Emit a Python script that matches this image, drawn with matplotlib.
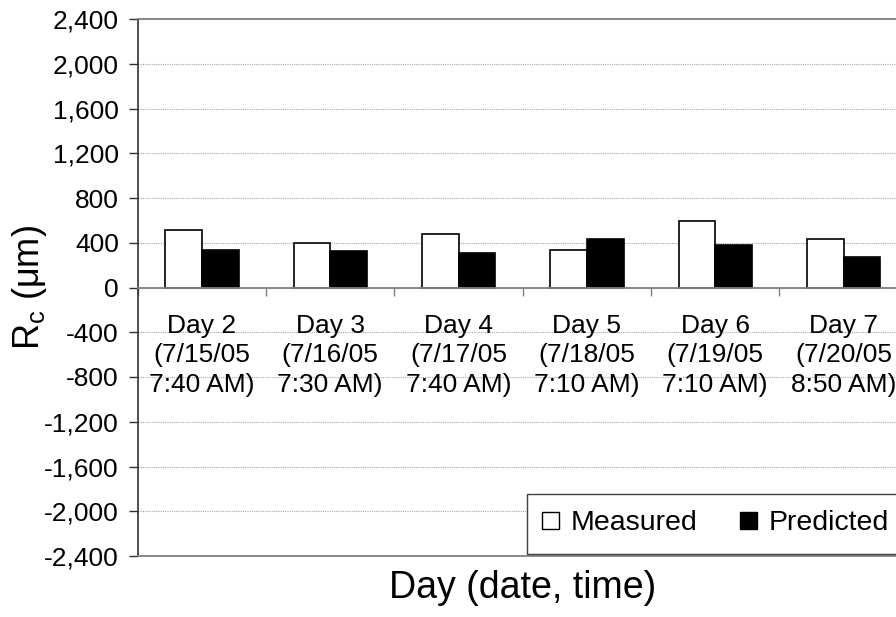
import matplotlib
matplotlib.use("Agg")
import matplotlib.pyplot as plt
from matplotlib.patches import Patch, Rectangle
import numpy as np

plt.rcParams['font.family'] = ['Liberation Sans', 'DejaVu Sans']
plt.rcParams['mathtext.fontset'] = 'custom'
plt.rcParams['mathtext.rm'] = 'Liberation Sans'
plt.rcParams['mathtext.it'] = 'Liberation Sans:italic'

categories = ["Day 2\n(7/15/05\n7:40 AM)", "Day 3\n(7/16/05\n7:30 AM)",
              "Day 4\n(7/17/05\n7:40 AM)", "Day 5\n(7/18/05\n7:10 AM)",
              "Day 6\n(7/19/05\n7:10 AM)", "Day 7\n(7/20/05\n8:50 AM)"]
measured = [510, 394, 474, 332, 593, 430]
predicted = [338, 326, 305, 430, 379, 273]
yticks = [-2400, -2000, -1600, -1200, -800, -400, 0, 400, 800, 1200, 1600, 2000, 2400]

W, H = 896, 617
fig = plt.figure(figsize=(W / 100, H / 100), dpi=100)
left, right, top, bottom = 137.7, 907.7, 19, 556
ax = fig.add_axes([left / W, (H - bottom) / H, (right - left) / W, (bottom - top) / H])

x = np.arange(len(categories))
bw = 1 / 3.5
ax.bar(x - bw / 2, measured, bw, color='white', edgecolor='black', linewidth=1.2, zorder=3)
ax.bar(x + bw / 2, predicted, bw, color='black', edgecolor='black', linewidth=1.2, zorder=3)

ax.set_xlim(-0.5, len(categories) - 0.5)
ax.set_ylim(-2400, 2400)
ax.set_yticks(yticks)
ax.set_yticklabels([f"{v:,}" for v in yticks], fontsize=19)
ax.yaxis.grid(True, color='#a8a8a8', linestyle=(0, (1, 1)), linewidth=0.8, zorder=0)
ax.set_axisbelow(True)

ax.set_xticks(np.arange(-0.5, len(categories) + 0.5, 1.0))
ax.set_xticklabels([])
ax.tick_params(axis='x', direction='out', length=5.8, width=1, color='#808080')
ax.tick_params(axis='y', direction='out', length=6.5, width=1, color='#303030', pad=7)

ax.spines['bottom'].set_position(('data', 0))
ax.spines['bottom'].set_color('#808080')
ax.spines['bottom'].set_linewidth(1.3)
ax.spines['bottom'].set_zorder(4)
ax.spines['top'].set_color('#808080')
ax.spines['top'].set_linewidth(1.3)
ax.spines['left'].set_color('#303030')
ax.spines['left'].set_linewidth(1.2)
ax.spines['right'].set_visible(False)
ax.axhline(-2400, color='#808080', linewidth=1.3, clip_on=False, zorder=4)

for i, lab in enumerate(categories):
    ax.annotate(lab, xy=(x[i], 0), xytext=(0, -26), textcoords='offset pixels',
                ha='center', va='top', fontsize=19, linespacing=1.3)

ax.set_ylabel(r'R$_\mathregular{c}$ (μm)', fontsize=26)
ax.yaxis.set_label_coords(-0.115, 0.5)
ax.set_xlabel('Day (date, time)', fontsize=27)
ax.xaxis.set_label_coords(0.5, -0.026)

# legend frame (extends past the right edge, as in the reference)
fig.add_artist(Rectangle((527 / W, (H - 554) / H), (915 - 527) / W, (554 - 494) / H,
                         transform=fig.transFigure, facecolor='white',
                         edgecolor='#404040', linewidth=1.0, zorder=5))

handles = [Patch(facecolor='white', edgecolor='black', linewidth=1),
           Patch(facecolor='black', edgecolor='black', linewidth=1)]
leg = fig.legend(handles, ['Measured', 'Predicted'], loc='center left',
                 bbox_to_anchor=(531 / W, (H - 523.5) / H), bbox_transform=fig.transFigure,
                 ncol=2, fontsize=20.5, frameon=False,
                 borderpad=0.4, borderaxespad=0, handlelength=0.58, handleheight=0.58,
                 handletextpad=0.42, columnspacing=1.5)
leg.set_zorder(6)

fig.savefig('out.png', dpi=100)
